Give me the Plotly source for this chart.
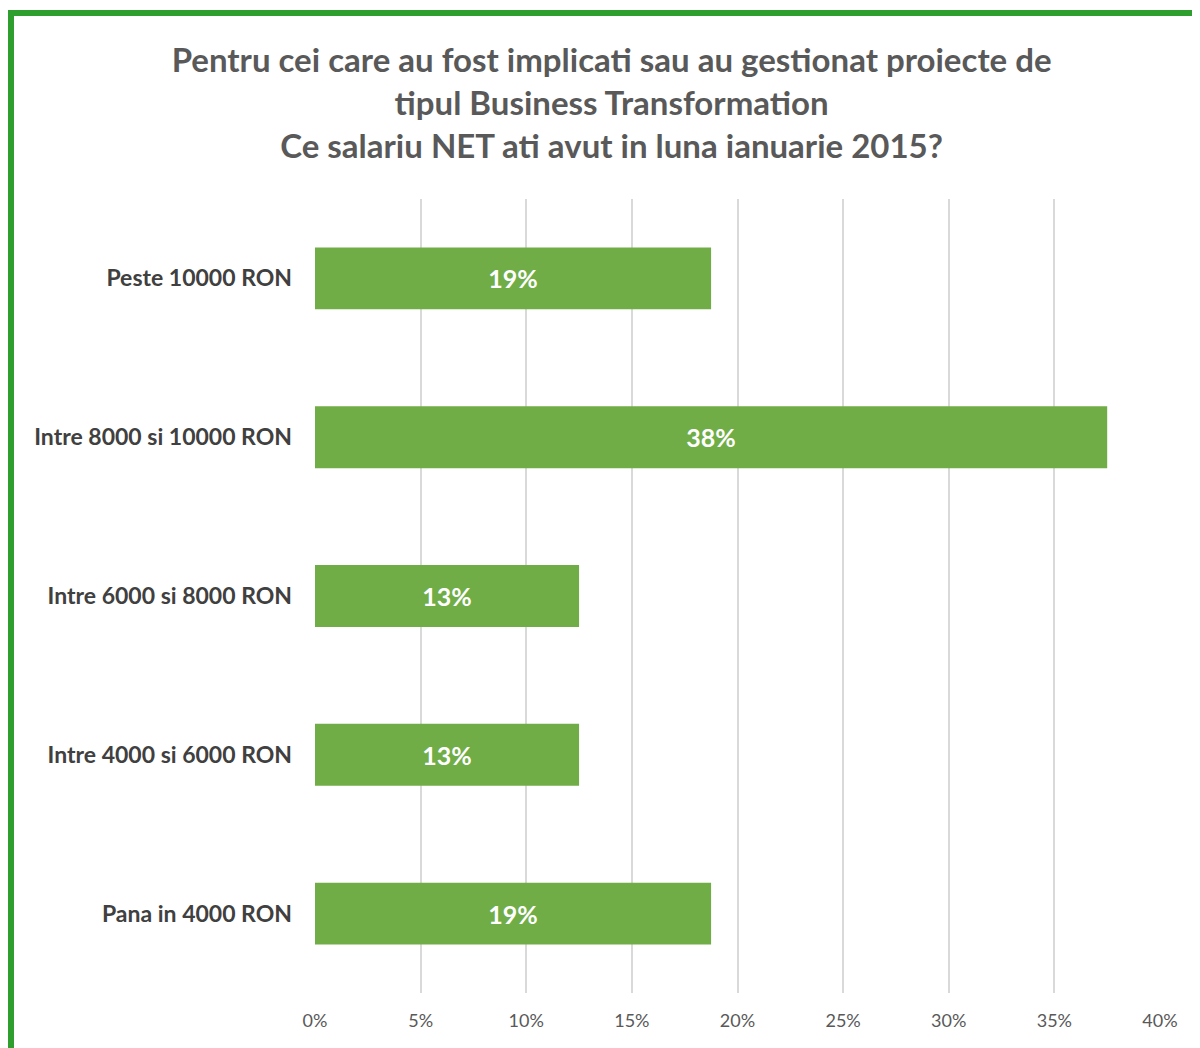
import plotly.graph_objects as go

categories = ["Peste 10000 RON", "Intre 8000 si 10000 RON", "Intre 6000 si 8000 RON",
              "Intre 4000 si 6000 RON", "Pana in 4000 RON"]
values = [18.75, 37.5, 12.5, 12.5, 18.75]
labels = [f"{int(v + 0.5)}%" for v in values]
tick_vals = [0, 5, 10, 15, 20, 25, 30, 35, 40]
tick_text = [f"{t}%" for t in tick_vals]

title_text = ("Pentru cei care au fost implicati sau au gestionat proiecte de<br>"
              "tipul Business Transformation<br>"
              "Ce salariu NET ati avut in luna ianuarie 2015?")

FONT = "Lato, 'Open Sans', sans-serif"

fig = go.Figure(go.Bar(
    x=values, y=categories, orientation="h",
    marker=dict(color="#70AD47", line=dict(width=0)),
    width=0.39,
    text=labels, textposition="inside", insidetextanchor="middle",
    textfont=dict(color="white", size=25, family=FONT, weight="bold"),
    hoverinfo="skip",
))

L, T = 307, 191
PW, PH = 845, 794

fig.update_layout(
    width=1200, height=1048,
    margin=dict(l=L, r=1200 - L - PW, t=T, b=1048 - T - PH),
    paper_bgcolor="white", plot_bgcolor="white",
    showlegend=False,
    font=dict(family=FONT),
    title=dict(text=title_text, x=0.503, xanchor="center", y=1 - 64 / 1048, yanchor="top",
               font=dict(size=33, color="#595959", family=FONT, weight="bold")),
    xaxis=dict(range=[0, 40], tickvals=tick_vals, ticktext=tick_text,
               showgrid=True, gridcolor="#D9D9D9", gridwidth=1.5, zeroline=False,
               showline=False, ticks="", ticklabelstandoff=15,
               tickfont=dict(size=18, color="#595959", family=FONT)),
    yaxis=dict(autorange="reversed", showgrid=False, zeroline=False, showline=False,
               ticks="", ticklabelstandoff=22,
               tickfont=dict(size=23, color="#404040", family=FONT, weight="bold")),
)

# green frame around the chart area
fig.add_shape(type="rect", xref="paper", yref="paper",
              x0=(3 - L) / PW, x1=(1240 - L) / PW,
              y0=(T + PH - 1100) / PH, y1=(T + PH - 5) / PH,
              line=dict(color="#2E9E2E", width=6), fillcolor="rgba(0,0,0,0)", layer="above")

fig.write_html("out.html")
